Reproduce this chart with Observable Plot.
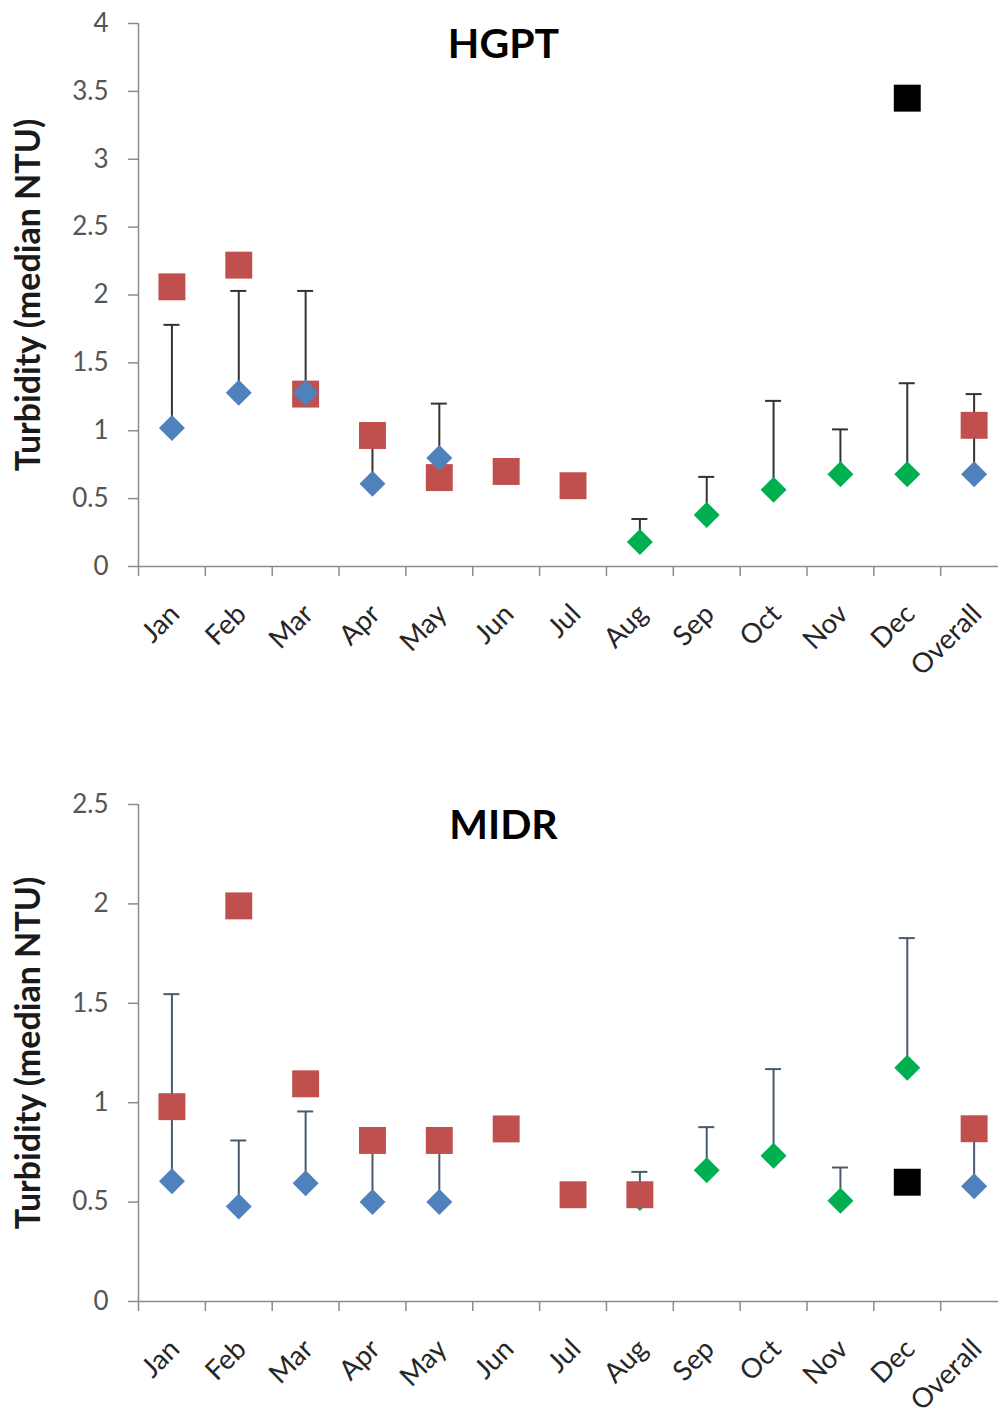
<!DOCTYPE html>
<html>
<head>
<meta charset="utf-8">
<script src="https://cdn.jsdelivr.net/npm/d3@7"></script>
<script src="https://cdn.jsdelivr.net/npm/@observablehq/plot@0.6"></script>
<style>
  html, body { margin: 0; padding: 0; background: #ffffff; }
  #chart svg { display: block; }
</style>
</head>
<body>
<div id="chart"></div>
<script>
// ---- Data ----
const months = ["Jan", "Feb", "Mar", "Apr", "May", "Jun", "Jul", "Aug", "Sep", "Oct", "Nov", "Dec", "Overall"];
const yAxisLabel = "Turbidity (median NTU)";

// HGPT panel
const hgptTitle = "HGPT";
const hgptTicks = [0, 0.5, 1, 1.5, 2, 2.5, 3, 3.5, 4];
const hgptBlue  = [1.02, 1.28, 1.28, 0.61, 0.80, null, null, null, null, null, null, null, 0.68];
const hgptGreen = [null, null, null, null, null, null, null, 0.18, 0.38, 0.565, 0.68, 0.68, null];
const hgptRed   = [2.06, 2.22, 1.27, 0.965, 0.655, 0.70, 0.595, null, null, null, null, null, 1.04];
const hgptBlack = [null, null, null, null, null, null, null, null, null, null, null, 3.45, null];
const hgptUpper = [1.78, 2.03, 2.03, 0.93, 1.20, null, null, 0.35, 0.66, 1.22, 1.01, 1.35, 1.27];

// MIDR panel
const midrTitle = "MIDR";
const midrTicks = [0, 0.5, 1, 1.5, 2, 2.5];
const midrBlue  = [0.605, 0.478, 0.595, 0.50, 0.50, null, null, null, null, null, null, null, 0.58];
const midrGreen = [null, null, null, null, null, null, null, 0.52, 0.66, 0.733, 0.507, 1.176, null];
const midrRed   = [0.98, 1.99, 1.095, 0.81, 0.81, 0.868, 0.537, 0.537, null, null, null, null, 0.869];
const midrBlack = [null, null, null, null, null, null, null, null, null, null, null, 0.60, null];
const midrUpper = [1.546, 0.81, 0.956, 0.78, 0.78, null, null, 0.652, 0.877, 1.169, 0.674, 1.828, 0.84];

// ---- Styling ----
const W = 998, H = 708;
const left = 138;
const step = 66.85;
const font = "Lato, 'Open Sans', sans-serif";
const axisStroke = "#8c8c8c";

function panel({title, ticks, blue, green, red, black, upper, marginTop, marginBottom, barColor}) {
  const rows = months.map((m, i) => ({m, blue: blue[i], green: green[i], red: red[i], black: black[i], upper: upper[i]}));
  const bars = rows.filter(d => d.upper != null).map(d => ({m: d.m, base: d.blue ?? d.green, upper: d.upper}));
  const yMax = ticks[ticks.length - 1];
  return Plot.plot({
    width: W, height: H,
    marginLeft: left, marginRight: 0, marginTop, marginBottom,
    style: {fontFamily: font, background: "#ffffff", overflow: "visible"},
    x: {type: "point", domain: months, range: [left + step / 2, left + 12.5 * step], padding: 0, round: false, label: null},
    y: {domain: [0, yMax], label: null},
    marks: [
      // boundary tick marks of the category axis
      Plot.axisX({tickSize: 10, tickFormat: () => "", dx: -step / 2, stroke: axisStroke, strokeWidth: 1.5, label: null}),
      // category labels
      Plot.text(months, {x: d => d, text: d => d, frameAnchor: "bottom", rotate: -45, textAnchor: "end", lineAnchor: "middle", dx: 3, dy: 43, fontSize: 27.5, fill: "#262626"}),
      Plot.axisY({ticks, tickSize: 10, tickPadding: 20, tickFormat: d => String(d), fontSize: 26, stroke: axisStroke, strokeWidth: 1.5, fill: "#555555", label: null}),
      Plot.ruleX([months[0]], {dx: -step / 2, y1: 0, y2: yMax, stroke: axisStroke, strokeWidth: 1.5}),
      Plot.ruleY([0], {stroke: axisStroke, strokeWidth: 1.5}),
      // error bars (upper only)
      Plot.ruleX(bars, {x: "m", y1: "base", y2: "upper", stroke: barColor, strokeWidth: 2}),
      Plot.ruleY(bars, {y: "upper", x1: "m", x2: "m", insetLeft: -8, insetRight: -8, stroke: barColor, strokeWidth: 2}),
      // markers
      Plot.dot(rows.filter(d => d.green != null), {x: "m", y: "green", symbol: "diamond2", r: 11.7, fill: "#00B050"}),
      Plot.dot(rows.filter(d => d.red != null), {x: "m", y: "red", symbol: "square", r: 15.2, fill: "#C0504D"}),
      Plot.dot(rows.filter(d => d.blue != null), {x: "m", y: "blue", symbol: "diamond2", r: 11.7, fill: "#4F81BD"}),
      Plot.dot(rows.filter(d => d.black != null), {x: "m", y: "black", symbol: "square", r: 15.2, fill: "#000000"}),
      // titles
      Plot.text([title], {frameAnchor: "top", textAnchor: "middle", dx: -65, dy: 5, fontSize: 41, fontWeight: "bold", fill: "#000000"}),
      Plot.text([yAxisLabel], {frameAnchor: "left", textAnchor: "middle", dx: -109, rotate: -90, fontSize: 34, fontWeight: "bold", fill: "#1a1a1a"})
    ]
  });
}

const chart = document.getElementById("chart");
chart.append(panel({title: hgptTitle, ticks: hgptTicks, blue: hgptBlue, green: hgptGreen, red: hgptRed, black: hgptBlack, upper: hgptUpper, marginTop: 23, marginBottom: 142, barColor: "#333333"}));
chart.append(panel({title: midrTitle, ticks: midrTicks, blue: midrBlue, green: midrGreen, red: midrRed, black: midrBlack, upper: midrUpper, marginTop: 96, marginBottom: 115, barColor: "#4a5a6c"}));
</script>
</body>
</html>
